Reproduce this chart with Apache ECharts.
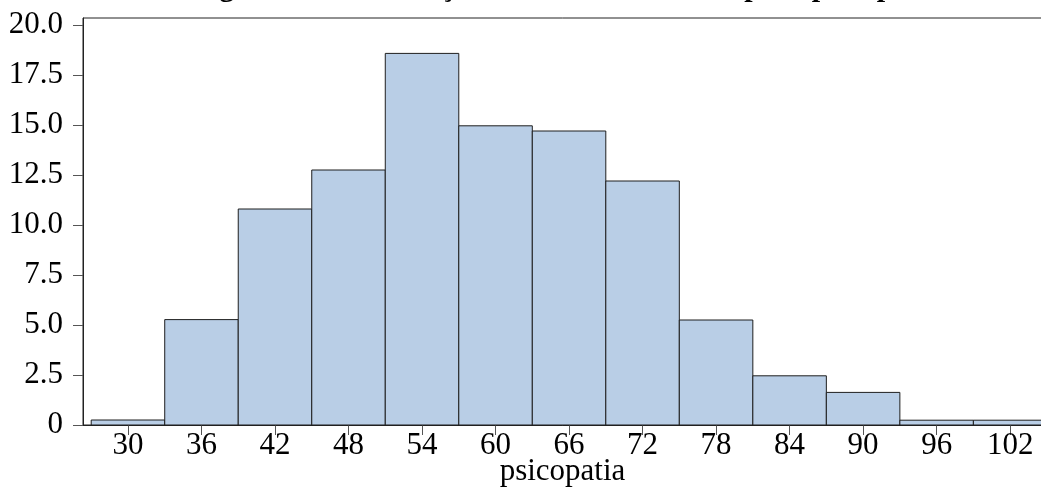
<!DOCTYPE html>
<html>
<head>
<meta charset="utf-8">
<script src="https://cdn.jsdelivr.net/npm/echarts@6/dist/echarts.min.js"></script>
<style>
  html, body { margin: 0; padding: 0; background: #fff; }
  #chart { width: 1041px; height: 487px; }
</style>
</head>
<body>
<div id="chart"></div>
<script>
const titleText = 'Histograma e distribuição normal da amostra para psicopatia';
const axisName = 'psicopatia';
const binEdges = [27, 33, 39, 45, 51, 57, 63, 69, 75, 81, 87, 93, 99, 105];
const percents = [0.25, 5.27, 10.80, 12.75, 18.58, 14.96, 14.70, 12.20, 5.25, 2.46, 1.63, 0.24, 0.24];
const xTicks = [30, 36, 42, 48, 54, 60, 66, 72, 78, 84, 90, 96, 102];
const yTicks = [0, 2.5, 5, 7.5, 10, 12.5, 15, 17.5, 20];

const bins = percents.map((v, i) => [binEdges[i], binEdges[i + 1], v]);
const serif = 'Liberation Serif, Times New Roman, serif';

const chart = echarts.init(document.getElementById('chart'), null, { renderer: 'canvas' });
chart.setOption({
  animation: false,
  backgroundColor: '#fff',
  title: {
    text: titleText,
    left: 151,
    top: -27,
    padding: 0,
    textStyle: { fontFamily: serif, fontSize: 30, fontWeight: 'bold', color: '#000' }
  },
  grid: {
    left: 83, right: -1, top: 18, bottom: 62,
    outerBoundsMode: 'none',
    containLabel: false,
    show: true, borderColor: '#222', borderWidth: 1, backgroundColor: 'transparent'
  },
  xAxis: {
    type: 'value',
    min: 26.33,
    max: 104.6,
    name: axisName,
    nameLocation: 'middle',
    nameGap: 31,
    nameMoveOverlap: false,
    nameTextStyle: { fontFamily: serif, fontSize: 31, color: '#000' },
    axisLine: { show: true, onZero: false, lineStyle: { color: '#222', width: 1 } },
    axisTick: { show: true, customValues: xTicks, length: 10, lineStyle: { color: '#555' } },
    axisLabel: { customValues: xTicks, fontFamily: serif, fontSize: 31, color: '#000', margin: 5 },
    splitLine: { show: false }
  },
  yAxis: {
    type: 'value',
    min: 0,
    max: 20.35,
    axisLine: { show: true, lineStyle: { color: '#222', width: 1 } },
    axisTick: { show: true, customValues: yTicks, length: 10, lineStyle: { color: '#555' } },
    axisLabel: {
      customValues: yTicks, fontFamily: serif, fontSize: 31, color: '#000', margin: 20,
      padding: [0, 0, 3, 0],
      formatter: v => (v === 0 ? '0' : v.toFixed(1))
    },
    splitLine: { show: false }
  },
  series: [{
    type: 'custom',
    data: bins,
    encode: { x: [0, 1], y: 2 },
    renderItem: function (params, api) {
      const p0 = api.coord([api.value(0), 0]);
      const p1 = api.coord([api.value(1), api.value(2)]);
      return {
        type: 'rect',
        shape: { x: p0[0], y: p1[1], width: p1[0] - p0[0], height: p0[1] - p1[1] },
        style: { fill: '#b9cee6', stroke: '#1e1e1e', lineWidth: 1 }
      };
    }
  }]
});
</script>
</body>
</html>
